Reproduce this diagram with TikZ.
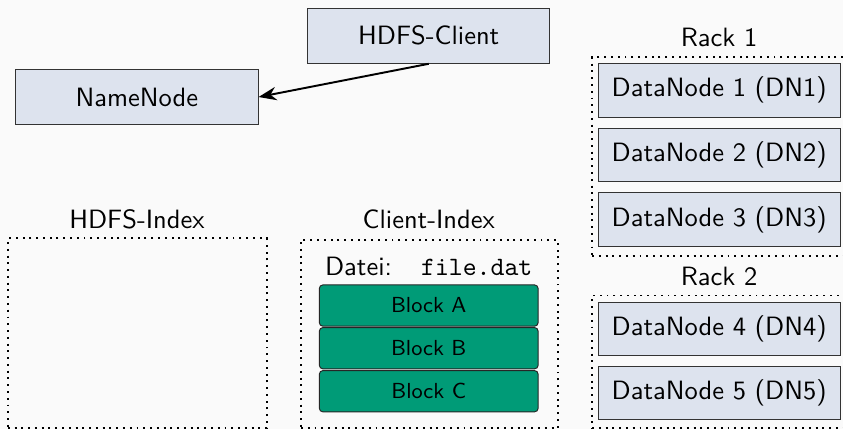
\documentclass[tikz,border=0pt,11pt]{standalone}
\usetikzlibrary{arrows.meta}
\definecolor{bgcol}{HTML}{FAFAFA}
\definecolor{boxfill}{HTML}{DDE3EE}
\definecolor{blockgreen}{HTML}{009B77}
\begin{document}
\begin{tikzpicture}[
        font=\sffamily,
        component/.style={rectangle, draw=black!80, fill=boxfill, minimum width=3.52cm, minimum height=0.8cm, inner sep=0pt},
        block/.style={rectangle, draw=black!85, fill=blockgreen, rounded corners=1.5pt, minimum width=3.18cm, minimum height=0.6cm, inner sep=0pt, font=\sffamily\footnotesize},
        container/.style={rectangle, draw, thick, dotted, inner sep=0pt},
        arrow/.style={-{Stealth[length=2.6mm]}, thick}
    ]
        \fill[bgcol] (0,0) rectangle (12.25,6.23);
        \clip (0,0) rectangle (12.25,6.23);

        % Client and NameNode
        \node[component] (client) at (6.23,5.71) {HDFS-Client};
        \node[component] (namenode) at (1.99,4.82) {NameNode};

        % Index containers
        \node[container, minimum width=3.76cm, minimum height=2.76cm, anchor=north west] (hdfsidx) at (0.10,2.78) {};
        \node (hdfsidxlabel) at (1.99,3.04) {HDFS-Index};
        \node[container, minimum width=3.73cm, minimum height=2.74cm, anchor=north west] (clientidx) at (4.36,2.76) {};
        \node (clientidxlabel) at (6.23,3.04) {Client-Index};
        \node (datei) at (6.23,2.36) {Datei:\hspace{1.1em}\texttt{file.dat}};

        % Blocks
        \node[block] (blocka) at (6.23,1.79) {Block A};
        \node[block] (blockb) at (6.23,1.17) {Block B};
        \node[block] (blockc) at (6.23,0.545) {Block C};

        % Racks
        \node[container, minimum width=3.73cm, minimum height=2.88cm, anchor=north west] (rack1) at (8.59,5.41) {};
        \node (rack1label) at (10.45,5.69) {Rack 1};
        \node[component, minimum height=0.78cm] (dn1) at (10.45,4.92) {DataNode 1 (DN1)};
        \node[component, minimum height=0.78cm] (dn2) at (10.45,3.98) {DataNode 2 (DN2)};
        \node[component, minimum height=0.78cm] (dn3) at (10.45,3.04) {DataNode 3 (DN3)};

        \node[container, minimum width=3.73cm, minimum height=1.93cm, anchor=north west] (rack2) at (8.59,1.95) {};
        \node (rack2label) at (10.45,2.21) {Rack 2};
        \node[component, minimum height=0.78cm] (dn4) at (10.45,1.45) {DataNode 4 (DN4)};
        \node[component, minimum height=0.78cm] (dn5) at (10.45,0.52) {DataNode 5 (DN5)};

        % Arrows
        \draw[arrow] (client.south) -- (namenode.east);
    \end{tikzpicture}
\end{document}
